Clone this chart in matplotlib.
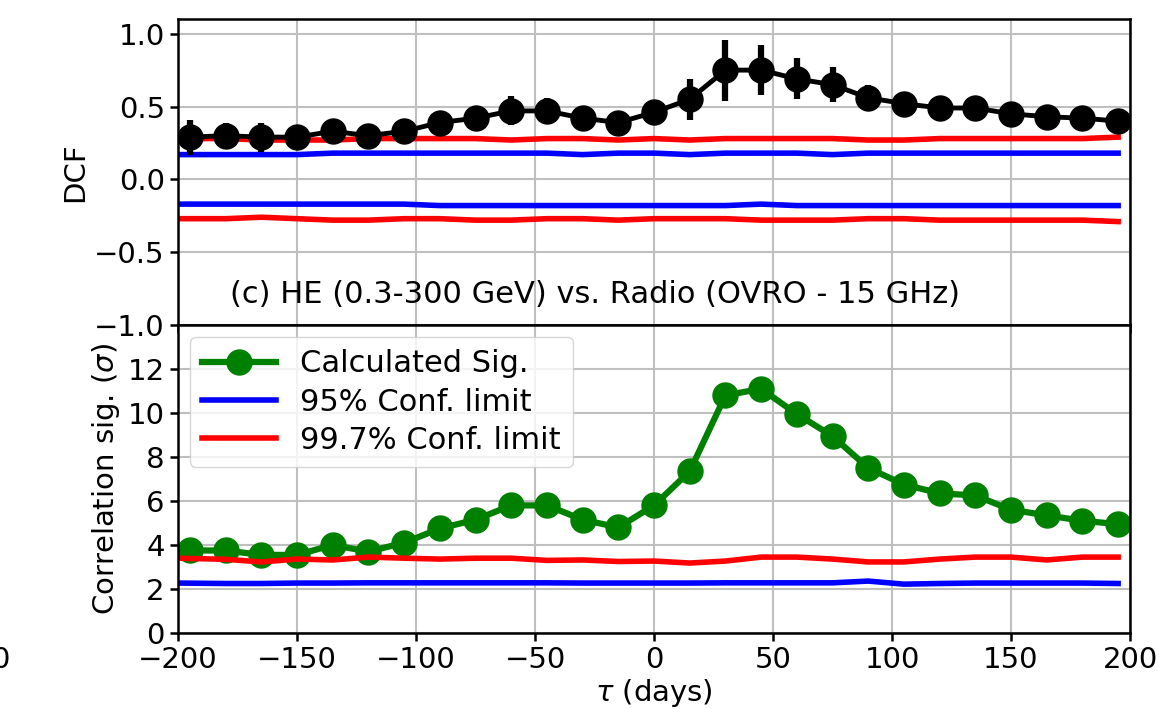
import numpy as np
import matplotlib
matplotlib.use("Agg")
import matplotlib.pyplot as plt

# time lags (days)
lags = [-195, -180, -165, -150, -135, -120, -105, -90, -75, -60, -45, -30, -15,
        0, 15, 30, 45, 60, 75, 90, 105, 120, 135, 150, 165, 180, 195]

# top panel: DCF with errors
dcf = [0.29, 0.30, 0.29, 0.29, 0.33, 0.30, 0.33, 0.39, 0.42, 0.47, 0.47, 0.42, 0.39,
       0.46, 0.55, 0.75, 0.75, 0.69, 0.65, 0.56, 0.52, 0.49, 0.49, 0.45, 0.43, 0.42, 0.40]
dcf_err = [0.12, 0.09, 0.10, 0.06, 0.07, 0.05, 0.06, 0.06, 0.07, 0.10, 0.09, 0.06, 0.06,
           0.08, 0.14, 0.21, 0.17, 0.14, 0.12, 0.09, 0.06, 0.05, 0.05, 0.06, 0.07, 0.05, 0.05]

# confidence limits for DCF
dcf95_up = [0.17, 0.17, 0.17, 0.17, 0.18, 0.18, 0.18, 0.18, 0.18, 0.18, 0.18, 0.17, 0.18,
            0.18, 0.17, 0.18, 0.18, 0.18, 0.17, 0.18, 0.18, 0.18, 0.18, 0.18, 0.18, 0.18, 0.18]
dcf997_up = [0.28, 0.28, 0.27, 0.27, 0.27, 0.28, 0.28, 0.28, 0.28, 0.27, 0.28, 0.28, 0.27,
             0.28, 0.27, 0.28, 0.28, 0.28, 0.28, 0.27, 0.27, 0.28, 0.28, 0.28, 0.28, 0.28, 0.29]
dcf95_lo = [-0.17, -0.17, -0.17, -0.17, -0.17, -0.17, -0.17, -0.18, -0.18, -0.18, -0.18, -0.18, -0.18,
            -0.18, -0.18, -0.18, -0.17, -0.18, -0.18, -0.18, -0.18, -0.18, -0.18, -0.18, -0.18, -0.18, -0.18]
dcf997_lo = [-0.27, -0.27, -0.26, -0.27, -0.28, -0.28, -0.27, -0.27, -0.28, -0.28, -0.27, -0.27, -0.28,
             -0.27, -0.27, -0.27, -0.28, -0.28, -0.28, -0.27, -0.27, -0.28, -0.28, -0.28, -0.28, -0.28, -0.29]

# bottom panel: significance
sig = [3.75, 3.75, 3.55, 3.55, 4.0, 3.7, 4.1, 4.75, 5.15, 5.8, 5.8, 5.15, 4.8,
       5.8, 7.35, 10.8, 11.1, 9.95, 8.95, 7.5, 6.75, 6.35, 6.25, 5.6, 5.35, 5.1, 4.95]
sig95 = [2.27, 2.25, 2.25, 2.27, 2.27, 2.28, 2.28, 2.28, 2.28, 2.28, 2.28, 2.27, 2.27,
         2.27, 2.27, 2.28, 2.28, 2.28, 2.28, 2.36, 2.22, 2.25, 2.27, 2.27, 2.27, 2.27, 2.25]
sig997 = [3.4, 3.35, 3.23, 3.36, 3.32, 3.45, 3.4, 3.36, 3.4, 3.4, 3.3, 3.32, 3.25,
          3.27, 3.18, 3.27, 3.45, 3.45, 3.36, 3.23, 3.23, 3.36, 3.45, 3.45, 3.32, 3.45, 3.45]

lim_lags = [-200] + lags[1:]

plt.rcParams['font.family'] = 'DejaVu Sans'
plt.rcParams['font.size'] = 21

fig = plt.figure(figsize=(11.59, 7.09), dpi=100)
ax1 = fig.add_axes([0.1536, 0.5416, 0.8214, 0.4314])
ax2 = fig.add_axes([0.1536, 0.1072, 0.8214, 0.4344], sharex=ax1)

ax1.plot(lim_lags, dcf997_up, color='red', lw=4)
ax1.plot(lim_lags, dcf95_up, color='blue', lw=4)
ax1.plot(lim_lags, dcf95_lo, color='blue', lw=4)
ax1.plot(lim_lags, dcf997_lo, color='red', lw=4)
ax1.errorbar(lags, dcf, yerr=dcf_err, fmt='o-', color='black', ms=18, lw=3.5,
             elinewidth=4.5, capsize=0)
ax1.text(-178, -0.79, "(c) HE (0.3-300 GeV) vs. Radio (OVRO - 15 GHz)",
         ha='left', va='center', fontsize=22)
ax1.set_ylim(-1.0, 1.1)
ax1.set_yticks([-1.0, -0.5, 0.0, 0.5, 1.0])
ax1.set_ylabel("DCF")
ax1.grid(True, color='0.75', lw=1.5)
ax1.tick_params(labelbottom=False)

ax2.plot(lags, sig, 'o-', color='green', ms=18, lw=4.5, label='Calculated Sig.')
ax2.plot(lim_lags, sig95, color='blue', lw=4, label='95% Conf. limit')
ax2.plot(lim_lags, sig997, color='red', lw=4, label='99.7% Conf. limit')
ax2.set_ylim(0, 14)
ax2.set_yticks([0, 2, 4, 6, 8, 10, 12])
ax2.set_xlim(-200, 200)
ax2.set_xticks([-200, -150, -100, -50, 0, 50, 100, 150, 200])
ax2.set_ylabel(r"Correlation sig. ($\sigma$)")
ax2.set_xlabel(r"$\tau$ (days)", labelpad=2)
ax2.grid(True, color='0.75', lw=1.5)
ax2.legend(loc='upper left', fontsize=22, handlelength=2.4, borderaxespad=0.4,
           labelspacing=0.3)

for ax in (ax1, ax2):
    for s in ax.spines.values():
        s.set_linewidth(1.8)
    ax.tick_params(width=1.8, length=6)

# cut-off label of neighbouring panel
fig.text(-0.008, 0.069, "0", fontsize=21, va='center')

fig.savefig("out.png", dpi=100)
